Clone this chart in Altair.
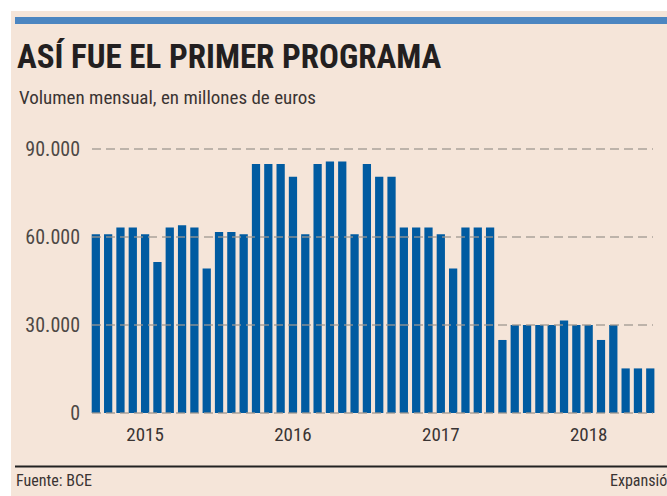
import altair as alt
import pandas as pd

# ---- data ----
months = [
    "2015-03", "2015-04", "2015-05", "2015-06", "2015-07", "2015-08", "2015-09", "2015-10", "2015-11", "2015-12",
    "2016-01", "2016-02", "2016-03", "2016-04", "2016-05", "2016-06", "2016-07", "2016-08", "2016-09", "2016-10",
    "2016-11", "2016-12", "2017-01", "2017-02", "2017-03", "2017-04", "2017-05", "2017-06", "2017-07", "2017-08",
    "2017-09", "2017-10", "2017-11", "2017-12", "2018-01", "2018-02", "2018-03", "2018-04", "2018-05", "2018-06",
    "2018-07", "2018-08", "2018-09", "2018-10", "2018-11", "2018-12",
]
volumes = [
    60900, 60900, 63200, 63200, 60900, 51500, 63200, 64000, 63200, 49300,
    61700, 61700, 60900, 84900, 84900, 84900, 80500, 60900, 84900, 85700,
    85700, 60900, 84900, 80500, 80500, 63200, 63200, 63200, 60900, 49300,
    63200, 63200, 63200, 24900, 30000, 30000, 30000, 30000, 31500, 30000,
    30000, 24900, 30000, 15200, 15200, 15200,
]
tick_values = [0, 30000, 60000, 90000]
tick_labels = ["0", "30.000", "60.000", "90.000"]
year_months = ["2015-07", "2016-07", "2017-07", "2018-07"]
year_labels = ["2015", "2016", "2017", "2018"]

title = "ASÍ FUE EL PRIMER PROGRAMA"
subtitle = "Volumen mensual, en millones de euros"
source = "Fuente: BCE"
brand = "Expansión"

# ---- style ----
NARROW = "Roboto Condensed, Noto Sans Condensed, DejaVu Sans Condensed, sans-serif"
BG = "#f5e5d9"
BAR = "#005ba1"
GRID = "#9c9690"

bars_df = pd.DataFrame({"m": months, "v": volumes})
ticks_df = pd.DataFrame({"v": tick_values, "label": tick_labels})
years_df = pd.DataFrame({"m": year_months, "label": year_labels})

xscale = alt.Scale(domain=months, range=[91.7, 654.4], paddingInner=0.33, paddingOuter=0)
yscale = alt.Scale(domain=[0, 90000], range=[413, 149])

one = alt.Data(values=[{"a": 1}])

background = alt.Chart(one).mark_rect(color=BG).encode(
    x=alt.value(11), x2=alt.value(667), y=alt.value(11), y2=alt.value(496)
)
topband = alt.Chart(one).mark_rect(color="#4c86c1").encode(
    x=alt.value(15), x2=alt.value(667), y=alt.value(17), y2=alt.value(24)
)
title_t = alt.Chart(one).mark_text(
    text=title, font=NARROW, fontSize=33, fontWeight="bold", color="#231f20",
    align="left", baseline="alphabetic"
).encode(x=alt.value(17), y=alt.value(68))
subtitle_t = alt.Chart(one).mark_text(
    text=subtitle, font=NARROW, fontSize=19, color="#3a3433",
    align="left", baseline="alphabetic"
).encode(x=alt.value(19), y=alt.value(104))

bars = alt.Chart(bars_df).mark_bar(color=BAR).encode(
    x=alt.X("m:N", scale=xscale, axis=None),
    y=alt.Y("v:Q", scale=yscale, axis=None),
)
grid = alt.Chart(ticks_df).mark_rule(
    color=GRID, strokeDash=[9, 5], strokeWidth=1.5, opacity=0.85
).encode(
    y=alt.Y("v:Q", scale=yscale, axis=None),
    x=alt.value(92), x2=alt.value(653),
)
ylabels = alt.Chart(ticks_df).mark_text(
    font=NARROW, fontSize=20, color="#4d4845", align="right", baseline="middle", dy=1
).encode(
    y=alt.Y("v:Q", scale=yscale, axis=None),
    x=alt.value(80),
    text="label:N",
)
xlabels = alt.Chart(years_df).mark_text(
    font=NARROW, fontSize=19, color="#3a3433", align="center", baseline="middle"
).encode(
    x=alt.X("m:N", scale=xscale, axis=None),
    y=alt.value(435),
    text="label:N",
)
bottom_rule = alt.Chart(one).mark_rule(color="#222222", strokeWidth=2).encode(
    x=alt.value(15), x2=alt.value(667), y=alt.value(466.5)
)
source_t = alt.Chart(one).mark_text(
    text=source, font=NARROW, fontSize=16, color="#3a3433",
    align="left", baseline="alphabetic"
).encode(x=alt.value(16), y=alt.value(486))
brand_t = alt.Chart(one).mark_text(
    text=brand, font=NARROW, fontSize=16, color="#3a3433",
    align="left", baseline="alphabetic"
).encode(x=alt.value(610), y=alt.value(486))

chart = alt.layer(
    background, topband, title_t, subtitle_t, bars, grid, ylabels, xlabels,
    bottom_rule, source_t, brand_t
).properties(
    width=667, height=496, padding=0, background="white",
    autosize=alt.AutoSizeParams(type="none"),
).configure_view(stroke=None)

chart.save("out.html", embed_options={"renderer": "svg", "actions": False})
